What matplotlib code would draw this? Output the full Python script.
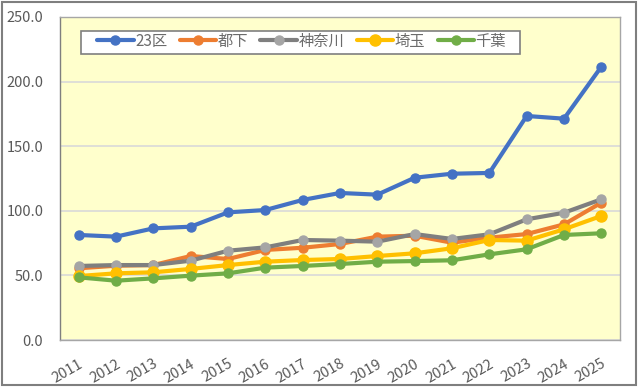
import matplotlib
matplotlib.use("Agg")
import matplotlib.pyplot as plt
from matplotlib.patches import Rectangle

plt.rcParams["font.family"] = ["Noto Sans CJK JP", "DejaVu Sans"]

years = [str(y) for y in range(2011, 2026)]

ku23 = [81.3, 80.0, 86.4, 87.7, 98.8, 100.6, 108.4, 113.8, 112.5, 125.6, 128.7, 129.3, 173.4, 171.3, 211.5]
tokai = [55.5, 57.5, 58.0, 65.0, 62.7, 69.7, 71.4, 74.3, 80.0, 80.7, 75.3, 79.2, 82.0, 89.5, 106.3]
kanagawa = [57.3, 58.0, 58.0, 61.4, 69.1, 71.7, 77.4, 76.9, 76.1, 82.0, 78.2, 81.8, 93.4, 98.5, 108.9]
saitama = [49.5, 51.6, 52.4, 55.0, 58.0, 60.6, 61.9, 62.7, 65.0, 67.1, 71.0, 77.4, 76.9, 85.7, 96.0]
chiba = [48.5, 45.9, 47.7, 49.8, 51.6, 56.0, 57.3, 58.8, 60.6, 61.1, 61.7, 66.3, 70.2, 81.3, 82.6]

# (label, values, line colour, marker colour, marker size)
series = [
    ("23区", ku23, "#4472C4", "#4472C4", 6.5),
    ("都下", tokai, "#ED7D31", "#ED7D31", 6.5),
    ("神奈川", kanagawa, "#7F7F7F", "#A5A5A5", 6.5),
    ("埼玉", saitama, "#FFC000", "#FFC000", 8),
    ("千葉", chiba, "#70AD47", "#70AD47", 6.5),
]

fig = plt.figure(figsize=(6.4, 3.88), dpi=100)
ax = fig.add_axes([60 / 640, 1 - 340 / 388, 560 / 640, 323 / 388])
ax.set_facecolor("#FFFFCC")

x = list(range(len(years)))
for label, vals, lc, mc, ms in series:
    ax.plot(x, vals, color=lc, lw=3, marker="o", ms=ms,
            markerfacecolor=mc, markeredgecolor=mc, label=label,
            solid_capstyle="round", zorder=3)

ax.set_xlim(-0.5, len(years) - 0.5)
ax.set_ylim(0, 250)
ax.set_yticks([0, 50, 100, 150, 200, 250])
ax.set_yticklabels([f"{v:.1f}" for v in [0, 50, 100, 150, 200, 250]])
ax.set_xticks(x)
ax.set_xticklabels(years, rotation=30, ha="right", rotation_mode="anchor")
ax.tick_params(axis="both", length=0, colors="#595959", labelsize=10.5)
ax.tick_params(axis="x", pad=12)
ax.tick_params(axis="y", pad=12)
ax.grid(axis="y", color="#D9D9D9", lw=1.2)
ax.set_axisbelow(True)
for s in ax.spines.values():
    s.set_color("#A6A6A6")
    s.set_linewidth(1)
ax.spines["left"].set_color("#7F7F7F")

# legend box drawn separately so it can have Excel-like side padding
ax.add_patch(Rectangle((0.0375, 0.885), 0.784, 0.0712, transform=ax.transAxes,
                       facecolor="white", edgecolor="#7F7F7F", lw=1.2, zorder=4))
leg = ax.legend(loc="upper left", bbox_to_anchor=(0.066, 0.952), ncol=5,
                frameon=False, fontsize=11, handlelength=2.4,
                columnspacing=0.8, handletextpad=0.1, borderpad=0,
                borderaxespad=0, labelcolor="#6b6b6b")
leg.set_zorder(5)

# outer chart frame
fig.patches.append(Rectangle((1.5 / 640, 3.5 / 388), 634 / 640, 383 / 388,
                             transform=fig.transFigure, fill=False,
                             edgecolor="#7F7F7F", lw=1.5))

fig.savefig("out.png", dpi=100)
